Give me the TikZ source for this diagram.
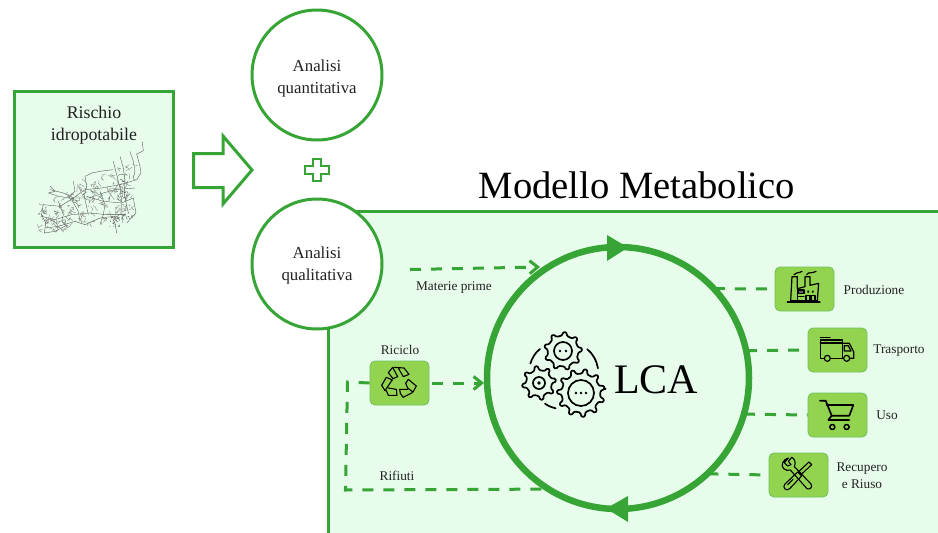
\documentclass[tikz,border=0pt]{standalone}
\usepackage{fontspec}
\setmainfont{Liberation Serif}
\usetikzlibrary{arrows.meta}
\definecolor{gr}{HTML}{36A535}
\definecolor{pale}{HTML}{E8FCEC}
\definecolor{boxf}{HTML}{92D350}
\definecolor{boxl}{HTML}{6FC25A}
\definecolor{txt}{HTML}{222222}
\tikzset{
  ring/.style={circle,draw=gr,fill=white,line width=3pt,minimum size=130pt,inner sep=0pt,outer sep=0pt},
  ringtxt/.style={inner sep=0pt,align=center,font=\fontsize{16.8}{22}\selectfont,text=txt},
  iconbox/.style={draw=boxl,fill=boxf,line width=.8pt,rounded corners=5pt,minimum width=59pt,minimum height=44pt,inner sep=0pt},
  lab/.style={font=\fontsize{13.3}{17}\selectfont,text=txt,align=center,inner sep=0pt},
  flow/.style={draw=gr,line width=3pt,dash pattern=on 11pt off 10pt},
  barb/.style={-{Straight Barb[length=8pt,width=13pt,line width=3pt]}},
  mapln/.style={draw=black!70,line width=.35pt},
  ico/.style={draw=black,line width=1.2pt,line join=round,line cap=round},
  headtri/.style={fill=gr,draw=none},
}
\newcommand{\gearshape}[6]{% x y outer root teeth rotation
  \begin{scope}[shift={(#1,#2)}]
    \pgfmathsetmacro{\stepang}{360/#5}
    \draw[ico,line width=1.7pt,rounded corners=1pt]
      (#6:#3pt)
      \foreach \k in {1,...,#5}{
        -- ({#6+(\k-1)*\stepang+.22*\stepang}:#3pt)
        -- ({#6+(\k-1)*\stepang+.36*\stepang}:#4pt)
        -- ({#6+(\k-1)*\stepang+.86*\stepang}:#4pt)
        -- ({#6+\k*\stepang}:#3pt)
      } -- cycle;
  \end{scope}}
\begin{document}
\begin{tikzpicture}[x=1pt,y=-1pt]
\useasboundingbox (0,0) rectangle (938,533);
\fill[white] (0,0) rectangle (938,533);
% panel
\fill[pale] (328,211) rectangle (938,533);
\draw[gr,line width=3pt] (328,533) -- (328,211) -- (938,211);
\node[font=\fontsize{38.6}{40}\selectfont,text=black,inner sep=0pt] (title) at (637,185) {Modello Metabolico};
% risk box
\node[draw=gr,fill=pale,line width=3pt,minimum width=159pt,minimum height=156pt,inner sep=0pt,outer sep=0pt] (risk) at (94,169.5) {};
\node[font=\fontsize{17.8}{22}\selectfont,text=txt,align=center,inner sep=0pt] (risktxt) at (94,125.5) {Rischio\\idropotabile};
% map
\begin{scope}[shift={(35,138)},x=.3333pt,y=-.3333pt]
 \foreach \p in {
  {(322,12)--(325,38)--(305,48)--(315,85)--(318,105)--(305,125)},
  {(285,40)--(295,70)--(300,100)--(295,120)},
  {(255,55)--(265,90)--(270,130)--(268,170)--(280,225)},
  {(235,70)--(245,110)--(255,150)--(260,190)--(262,255)},
  {(150,115)--(155,145)--(148,175)--(160,230)},
  {(235,95)--(195,100)--(170,105)--(150,115)},
  {(305,125)--(255,140)--(200,150)--(150,155)--(115,180)--(85,165)--(45,155)},
  {(300,150)--(240,155)--(205,165)--(160,180)--(115,180)--(75,205)--(25,200)},
  {(45,145)--(60,160)--(40,165)--(70,175)--(115,182)},
  {(25,198)--(20,230)--(32,255)--(28,285)--(60,280)--(95,262)},
  {(20,235)--(60,245)--(110,230)--(165,225)--(215,230)--(270,230)},
  {(30,270)--(70,265)--(120,250)--(150,260)--(195,240)--(240,235)},
  {(70,190)--(85,230)--(80,250)--(100,270)},
  {(110,185)--(130,220)--(135,250)},
  {(155,175)--(205,190)--(260,195)--(295,180)--(303,225)--(275,255)},
  {(195,160)--(210,200)--(205,230)--(195,260)},
  {(115,130)--(120,160)--(105,172)},
  {(240,255)--(245,285)}
 }{\draw[mapln] \p;}
 \pgfmathsetseed{7}
 \foreach \i in {1,...,170}{
   \pgfmathsetmacro{\ax}{20+280*rnd}
   \pgfmathsetmacro{\ay}{200-(\ax-20)*.46+(85+(\ax-20)*.3)*rnd}
   \pgfmathsetmacro{\bx}{\ax+28*rnd-14}
   \pgfmathsetmacro{\by}{\ay+28*rnd-14}
   \pgfmathsetmacro{\cx}{\bx+20*rnd-10}
   \pgfmathsetmacro{\cy}{\by+20*rnd-10}
   \draw[mapln,draw=black!50] (\ax,\ay) -- (\bx,\by) -- (\cx,\cy);
 }
 \foreach \mx/\my/\mr/\mn in {262/222/22/55,240/250/15/30,262/170/14/30,115/180/12/16,22/228/9/8,262/130/10/10}{
  \foreach \i in {1,...,\mn}{
   \pgfmathsetmacro{\ax}{\mx+2*\mr*rnd-\mr}
   \pgfmathsetmacro{\ay}{\my+2*\mr*rnd-\mr}
   \pgfmathsetmacro{\bx}{\ax+10*rnd-5}
   \pgfmathsetmacro{\by}{\ay+10*rnd-5}
   \draw[mapln,draw=black!65,line width=.4pt] (\ax,\ay) -- (\bx,\by);
  }
 }
\end{scope}
% block arrow
\node[inner sep=0pt,minimum size=0pt] (barrow) at (223,170) {};
\draw[gr,fill=white,line width=3pt,line join=miter] (193.5,153.5) -- (223,153.5) -- (223,136) -- (252,170) -- (223,204) -- (223,187.5) -- (193.5,187.5) -- cycle;
% circles
\node[ring] (quant) at (317,75) {};
\node[ringtxt] (tquant) at (317,78) {Analisi\\quantitativa};
\node[ring] (qual) at (317,264) {};
\node[ringtxt] (tqual) at (317,265.5) {Analisi\\qualitativa};
\node[inner sep=0pt,minimum size=0pt] (plus) at (317,170) {};
\draw[gr,fill=white,line width=2.8pt] (313,159) -- (321,159) -- (321,166) -- (329,166) -- (329,174) -- (321,174) -- (321,181) -- (313,181) -- (313,174) -- (305,174) -- (305,166) -- (313,166) -- cycle;
% main ring
\node[circle,draw=gr,line width=6.5pt,minimum size=262pt,inner sep=0pt,outer sep=0pt] (lca) at (618,378) {};
\path[headtri] (607,235) -- (628,247.5) -- (607,261) -- cycle;
\path[headtri] (628,496) -- (606,508.5) -- (628,522) -- cycle;
% icon boxes
\node[iconbox] (prod) at (804.5,289) {};
\node[iconbox] (tras) at (837.5,350) {};
\node[iconbox] (uso) at (837.5,415) {};
\node[iconbox] (recu) at (798.5,475) {};
\node[iconbox] (rici) at (399.5,383) {};
% labels
\node[lab] (lprod) at (874,289.5) {Produzione};
\node[lab] (ltras) at (899,350.5) {Trasporto};
\node[lab] (luso) at (887,415.5) {Uso};
\node[lab] (lrecu) at (862,476) {Recupero\\e Riuso};
\node[lab] (lrici) at (400,350) {Riciclo};
\node[lab] (lrifi) at (397,476) {Rifiuti};
\node[lab] (lmat) at (454,288) {Materie prime};
\node[font=\fontsize{42}{44}\selectfont,text=black,inner sep=0pt] (ltxt) at (656,380) {LCA};
% connectors
\coordinate (mstart) at (410,269.5);
\coordinate (mend) at (540,267);
\draw[flow,barb] (mstart) -- (mend);
\draw[flow,shorten >=5pt] (lca.43.4) -- (prod.west);
\draw[flow,shorten >=3pt] (lca.12.3) -- (tras.west);
\draw[flow] (lca.-16) -- (uso.west);
\draw[flow,shorten >=4pt] (lca.-47.8) -- (recu.west);
\draw[flow,barb,shorten <=3pt,shorten >=3pt] (rici.east) -- (lca.west |- rici.east);
\coordinate (c1) at (347.5,382);
\coordinate (c2) at (345.5,490);
\draw[flow] (rici.west) -- (c1) -- (c2) -- (lca.238);
% gears
\gearshape{581}{393}{24}{19.5}{11}{10}
\gearshape{563}{351}{19}{15.5}{9}{0}
\gearshape{539}{383}{17}{13}{8}{5}
\draw[ico,line width=1.7pt] (581,393) circle (13pt) (563,351) circle (9pt) (539,383) circle (6pt);
\fill[black] (539,383) circle (1.8pt) (576,393) circle (1.3pt) (581,393) circle (1.3pt) (586,393) circle (1.3pt) (560,351) circle (1.3pt) (566,351) circle (1.3pt);
\begin{scope}[shift={(500,310)},x=.3333pt,y=-.3333pt]
 \draw[ico,line width=1.7pt] (120,117) .. controls (105,128) and (96,145) .. (91,161);
 \draw[ico,line width=1.7pt] (262,118) .. controls (278,130) and (290,152) .. (294,175);
 \draw[ico,line width=1.7pt] (135,281) .. controls (145,288) and (155,292) .. (167,295);
\end{scope}
% factory
\begin{scope}[shift={(780,266)},x=.3333pt,y=-.3333pt]
 \draw[ico] (22,108) -- (120,108);
 \draw[ico] (36,32) -- (52,32) -- (52,68) -- (75,62) -- (75,32) -- (90,32) -- (90,58) -- (116,52) -- (112,104) -- (32,104) -- cycle;
 \draw[ico] (52,68) -- (52,104);
 \draw[ico] (42,26) .. controls (48,16) and (55,24) .. (66,16);
 \draw[ico] (80,26) .. controls (86,16) and (95,24) .. (108,16);
 \draw[ico,fill=black!60] (56,72) rectangle (72,82);
 \draw[ico] (78,104) -- (78,88) -- (90,88) -- (90,104) (93,104) -- (93,88) -- (105,88) -- (105,104);
 \fill[black] (82,74) rectangle (87,80) (96,74) rectangle (101,80);
 \draw[ico] (56,92) -- (72,92);
\end{scope}
% truck
\begin{scope}[shift={(710,255)},x=.3333pt,y=-.3333pt]
 \draw[ico] (331,247) -- (360,247);
 \draw[ico] (342,310) -- (331,310) -- (331,255) -- (397,255) -- (397,310) -- (362,310);
 \draw[ico] (331,264) -- (397,264);
 \draw[ico] (397,265) -- (418,265) -- (431,290) -- (431,310) -- (420,310) (400,310) -- (397,310);
 \draw[ico] (403,272) -- (415,272) -- (423,288) -- (403,288) -- cycle;
 \draw[ico] (352,310) circle (3pt) (410,310) circle (3pt);
\end{scope}
% cart
\begin{scope}[shift={(710,385)},x=.3333pt,y=-.3333pt]
 \draw[ico,line width=1.7pt] (330,47) -- (347,47) -- (365,92) -- (355,105) -- (418,105);
 \draw[ico,line width=1.7pt] (350,60) -- (430,60) -- (418,92) -- (365,92);
 \draw[ico,line width=1.5pt] (367,126) circle (2.5pt) (410,126) circle (2.5pt);
\end{scope}
% tools
\begin{scope}[shift={(775,452)},x=.3333pt,y=-.3333pt]
 \draw[ico,line width=1.1pt] (40,18) .. controls (24,22) and (16,40) .. (26,50) .. controls (32,56) and (40,56) .. (46,54) -- (96,110) .. controls (104,114) and (114,106) .. (108,96) -- (58,44) .. controls (64,32) and (58,18) .. (50,16) -- (40,28) -- (48,38) -- (38,42) -- (28,32) -- cycle;
 \draw[ico,line width=1.1pt] (102,30) -- (110,38) -- (80,66) -- (72,58) -- cycle;
 \draw[ico,line width=1.1pt] (68,60) -- (80,72) -- (44,110) .. controls (34,120) and (20,106) .. (30,96) -- cycle;
 \draw[ico,line width=1.1pt] (38,98) -- (54,82);
\end{scope}
% recycle
\begin{scope}[shift={(375,360)},x=.3333pt,y=-.3333pt]
 \draw[ico,line width=1.1pt] (40,38) -- (53,22) -- (68,50) -- (54,56) -- cycle;
 \draw[ico,line width=1.1pt] (57,22) -- (87,24) -- (102,43) -- (85,50) -- (71,26);
 \draw[ico,line width=1.1pt] (34,52) -- (20,76) -- (30,92) -- (46,68) -- (52,60) -- cycle;
 \draw[ico,line width=1.1pt] (34,92) -- (40,106) -- (66,106) -- (64,88) -- (40,84);
 \draw[ico,line width=1.1pt] (100,58) -- (124,78) -- (114,96) -- (98,84) -- (92,70) -- cycle;
 \draw[ico,line width=1.1pt] (112,98) -- (84,112) -- (76,100) -- (74,88) -- (98,88);
\end{scope}
\end{tikzpicture}
\end{document}
